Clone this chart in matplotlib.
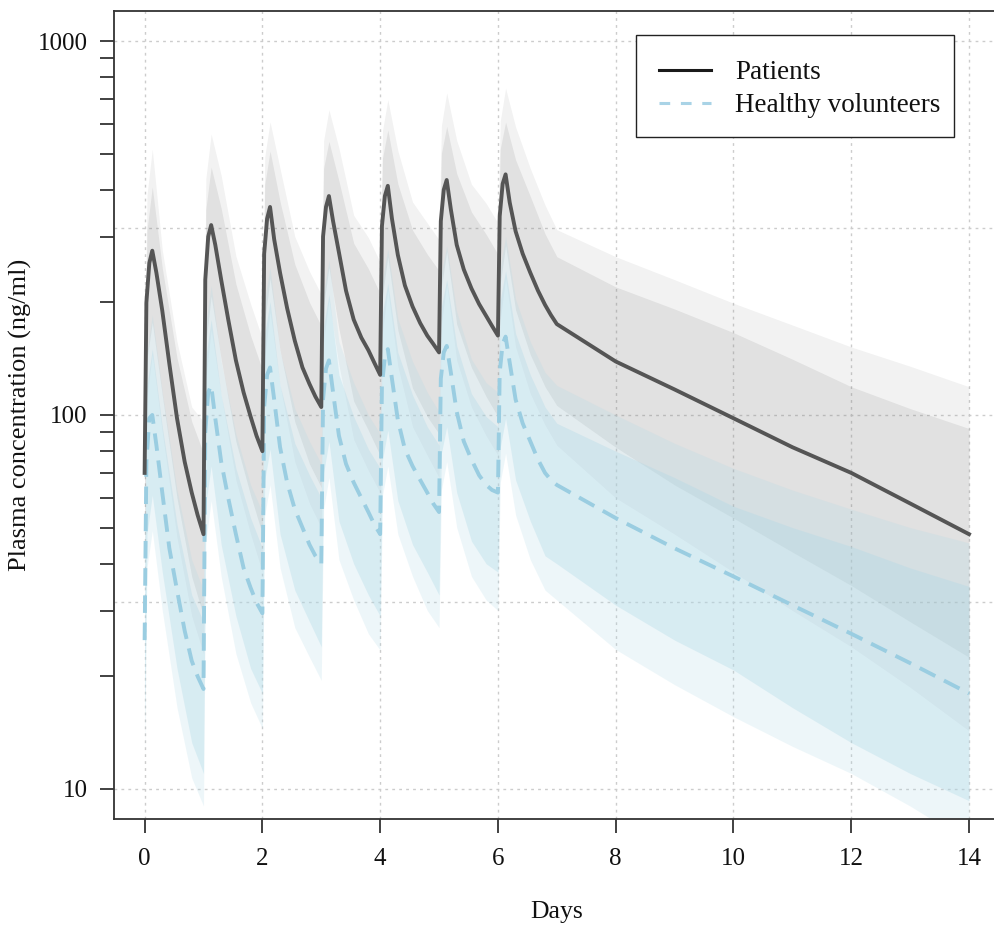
import matplotlib
matplotlib.use("Agg")
import matplotlib.pyplot as plt
from matplotlib.lines import Line2D
from matplotlib.patches import Rectangle
from matplotlib.ticker import NullFormatter

plt.rcParams['font.family'] = ['Liberation Serif', 'DejaVu Serif']

# ---------------- data ----------------
# time points of the two median curves
line_days = [0, 0.03, 0.08, 0.13, 0.2, 0.3, 0.42, 0.55, 0.68, 0.8, 0.9,
             1, 1.03, 1.08, 1.13, 1.2, 1.3, 1.42, 1.55, 1.68, 1.8, 1.9,
             2, 2.03, 2.08, 2.13, 2.2, 2.3, 2.42, 2.55, 2.68, 2.8, 2.9,
             3, 3.03, 3.08, 3.13, 3.2, 3.3, 3.42, 3.55, 3.68, 3.8, 3.9,
             4, 4.03, 4.08, 4.13, 4.2, 4.3, 4.42, 4.55, 4.68, 4.8, 4.9,
             5, 5.03, 5.08, 5.13, 5.2, 5.3, 5.42, 5.55, 5.68, 5.8, 5.9,
             6, 6.03, 6.08, 6.13, 6.2, 6.3, 6.42, 6.55, 6.68, 6.8, 6.9,
             7, 8, 9, 10, 11, 12, 13, 14]

pat_median = [70, 200, 255, 275, 240, 190, 137, 98, 75, 62, 54,
              48, 230, 300, 322, 285, 230, 180, 140, 115, 99, 88,
              80, 270, 335, 360, 295, 240, 193, 158, 134, 121, 112,
              105, 300, 360, 385, 330, 272, 215, 180, 161, 149, 138,
              128, 320, 385, 410, 335, 268, 222, 195, 176, 163, 155,
              147, 330, 400, 425, 355, 285, 245, 218, 198, 184, 173,
              163, 340, 415, 440, 370, 310, 270, 240, 215, 197, 185,
              175, 139, 117, 98, 82, 70, 58, 48]

hv_median = [25, 75, 98, 100, 83, 62, 44, 34, 26.5, 22, 20,
             18.5, 90, 115, 120, 98, 75, 60, 48, 39, 34.5, 31.5,
             29.5, 105, 128, 134, 110, 82, 66, 56, 50, 45, 42,
             40, 110, 133, 140, 115, 88, 74, 66, 60, 55, 51,
             48, 120, 143, 150, 125, 97, 81, 73, 67, 62, 58,
             55, 125, 147, 153, 130, 102, 85, 76, 69, 65, 63,
             62, 130, 155, 162, 138, 110, 95, 85, 76, 70, 67,
             65, 53, 44, 37, 31, 26, 21.7, 18]

# time points of the prediction bands
band_days = [0, 0.04, 0.13, 0.3, 0.55, 0.8,
             1, 1.04, 1.13, 1.3, 1.55, 1.8,
             2, 2.04, 2.13, 2.3, 2.55, 2.8,
             3, 3.04, 3.13, 3.3, 3.55, 3.8,
             4, 4.04, 4.13, 4.3, 4.55, 4.8,
             5, 5.04, 5.13, 5.3, 5.55, 5.8,
             6, 6.04, 6.13, 6.3, 6.55, 6.8,
             7, 8, 9, 10, 11, 12, 13, 14]

pat_inner_hi = [112, 312, 407, 247, 142, 96,
                79, 355, 460, 357, 224, 163,
                132, 413, 508, 372, 253, 200,
                173, 457, 539, 422, 288, 246,
                211, 486, 578, 415, 312, 269,
                243, 500, 591, 442, 349, 304,
                269, 515, 607, 481, 384, 305,
                265, 220, 192, 166, 141, 119, 104, 92]

pat_outer_hi = [137, 387, 514, 276, 157, 105,
                96, 429, 564, 437, 266, 198,
                160, 490, 608, 456, 300, 242,
                210, 542, 655, 517, 342, 298,
                256, 576, 697, 509, 371, 326,
                294, 593, 727, 542, 414, 368,
                326, 611, 748, 589, 456, 364,
                313, 265, 230, 199, 174, 152, 135, 119]

pat_inner_lo = [44, 141, 177, 113, 60, 37,
                29, 156, 208, 141, 85, 61,
                48, 178, 232, 149, 96, 74,
                64, 197, 248, 170, 109, 91,
                78, 209, 265, 169, 118, 99,
                89, 219, 274, 175, 134, 112,
                99, 225, 284, 191, 145, 119,
                106, 82, 65, 53, 43, 35, 28, 22.5]

pat_outer_lo = [35, 112, 145, 90, 47, 29,
                23, 125, 169, 113, 67, 48,
                38, 142, 189, 120, 75, 58,
                50, 157, 203, 136, 86, 71,
                62, 167, 216, 135, 93, 78,
                68, 175, 224, 140, 105, 88,
                78, 180, 232, 152, 114, 94,
                83, 60, 48, 38, 30, 24, 18.7, 14.3]

hv_inner_hi = [37.5, 120, 150, 93, 51, 33,
               28, 143, 180, 113, 72, 53,
               44, 165, 201, 120, 84, 69,
               60, 173, 210, 128, 99, 81,
               72, 188, 225, 147, 113, 93,
               83, 195, 230, 153, 114, 99,
               93, 203, 243, 165, 128, 105,
               95, 80, 68, 57, 50, 44.5, 39, 34.8]

hv_outer_hi = [46, 148, 185, 115, 63, 41,
               34, 176, 222, 139, 89, 65,
               55, 204, 248, 148, 104, 85,
               74, 213, 259, 157, 122, 100,
               89, 231, 278, 181, 139, 115,
               102, 241, 283, 189, 141, 122,
               115, 250, 300, 204, 157, 130,
               120, 100, 84, 72, 63, 56, 50, 45.5]

hv_inner_lo = [15, 48, 61, 38, 21, 13.3,
               11, 58, 73, 45, 29, 21,
               18, 67, 81, 48, 34, 28,
               24, 70, 85, 52, 40, 33,
               29, 76, 91, 59, 45, 38,
               33, 79, 93, 62, 46, 40,
               38, 82, 98, 67, 52, 42,
               40, 31, 25, 20.8, 16.5, 13.3, 11, 9.3]

hv_outer_lo = [12, 39, 49, 30, 16.5, 10.7,
               9, 46, 59, 37, 23, 17,
               14.5, 54, 65, 39, 27, 22.5,
               19.5, 56, 68, 41, 32, 26,
               23.5, 61, 73, 48, 37, 30,
               27, 63, 75, 50, 37, 32,
               30, 66, 79, 54, 41, 34,
               32, 23.6, 19, 15.6, 13, 11, 9, 7.2]

x_ticks = [0, 2, 4, 6, 8, 10, 12, 14]
y_major = [10, 100, 1000]
y_major_labels = ['10', '100', '1000']
y_minor = [20, 30, 40, 50, 60, 70, 80, 90, 200, 300, 400, 500, 600, 700, 800, 900]
y_grid = [10, 31.6, 100, 316, 1000]
legend_labels = ['Patients', 'Healthy volunteers']

# ---------------- figure ----------------
W, H = 995, 927
fig = plt.figure(figsize=(W / 100, H / 100), dpi=100)
ax = fig.add_axes([114 / W, 1 - 819 / H, (1002 - 114) / W, (819 - 11) / H])
ax.set_yscale('log')
ax.set_xlim(-0.52, 14.56)
ax.set_ylim(8.31, 1203)

grid_kw = dict(color='#cccccc', lw=1.0, ls=(0, (2, 3)), zorder=0)
for gx in x_ticks:
    ax.axvline(gx, **grid_kw)
for gy in y_grid:
    ax.axhline(gy, **grid_kw)

ax.fill_between(band_days, pat_outer_lo, pat_outer_hi, color='#808080', alpha=0.10, lw=0, zorder=1)
ax.fill_between(band_days, pat_inner_lo, pat_inner_hi, color='#808080', alpha=0.15, lw=0, zorder=1)
ax.fill_between(band_days, hv_outer_lo, hv_outer_hi, color='#ADD8E6', alpha=0.21, lw=0, zorder=2)
ax.fill_between(band_days, hv_inner_lo, hv_inner_hi, color='#ADD8E6', alpha=0.33, lw=0, zorder=2)

ax.plot(line_days, hv_median, color='#9acde1', lw=2.8, dashes=(4.5, 2.5), zorder=3)
ax.plot(line_days, pat_median, color='#555555', lw=2.8, zorder=4)

# axes styling
ax.set_xticks(x_ticks)
ax.set_xticklabels([str(v) for v in x_ticks])
ax.set_yticks(y_major)
ax.set_yticklabels(y_major_labels)
ax.set_yticks(y_minor, minor=True)
ax.yaxis.set_minor_formatter(NullFormatter())
ax.tick_params(axis='both', which='both', direction='out', length=10, width=1.3,
               color='#333333', labelsize=18, labelcolor='#111111')
ax.tick_params(axis='y', which='both', pad=9)
ax.tick_params(axis='x', which='both', pad=11)
for side in ['left', 'bottom', 'top']:
    ax.spines[side].set_color('#333333')
    ax.spines[side].set_linewidth(1.3)
ax.spines['right'].set_visible(False)

fig.text(557 / W, 1 - 912 / H, 'Days', ha='center', va='center', fontsize=18.5, color='#111111')
fig.text(20 / W, 1 - 415 / H, 'Plasma concentration (ng/ml)', ha='center', va='center',
         rotation=90, fontsize=19, color='#111111')

# legend box drawn in figure pixel positions
def fx(px):
    return px / W

def fy(py):
    return 1 - py / H

fig.add_artist(Rectangle((fx(636), fy(137)), fx(954) - fx(636), fy(35) - fy(137),
                         transform=fig.transFigure, facecolor='white', edgecolor='#222222',
                         lw=1.0, zorder=10))
fig.add_artist(Line2D([fx(659), fx(711)], [fy(70), fy(70)], transform=fig.transFigure,
                      color='#1a1a1a', lw=2.2, zorder=11))
fig.add_artist(Line2D([fx(659), fx(711)], [fy(103), fy(103)], transform=fig.transFigure,
                      color='#a9d3e6', lw=2.2, dashes=(3.5, 3.5), zorder=11))
fig.text(fx(735), fy(79), legend_labels[0], ha='left', va='baseline', fontsize=19.5,
         color='#111111', zorder=12)
fig.text(fx(735), fy(112), legend_labels[1], ha='left', va='baseline', fontsize=19.5,
         color='#111111', zorder=12)

fig.savefig('out.png', dpi=100)
